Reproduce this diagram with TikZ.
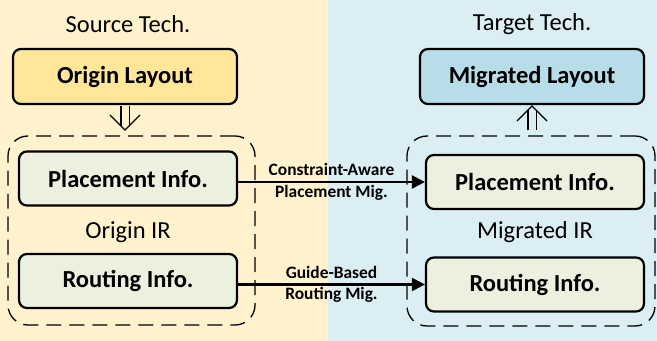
\documentclass[tikz,border=0pt]{standalone}
\usepackage{fontspec}
\setmainfont{Carlito}
\usetikzlibrary{arrows.meta}
\definecolor{srcbg}{HTML}{FFF2CC}
\definecolor{tgtbg}{HTML}{DAEEF3}
\definecolor{srcfill}{HTML}{FFE699}
\definecolor{tgtfill}{HTML}{B7DEE8}
\definecolor{infofill}{HTML}{EBF1DE}
\begin{document}
\begin{tikzpicture}[x=0.5pt,y=-0.5pt,
    infobox/.style={draw,line width=1.1pt,rounded corners=4pt,fill=infofill,minimum width=109pt,minimum height=27pt,font=\fontsize{12.25}{14}\selectfont\bfseries},
    layoutbox/.style={infobox,minimum width=112pt,minimum height=27.5pt},
    irbox/.style={draw,line width=0.65pt,dash pattern=on 7.5pt off 4pt,rounded corners=10pt},
    migarrow/.style={line width=1.1pt,-{Triangle[length=6.5pt,width=6.5pt]}},
    flowshaft/.style={double distance=3.5pt,line width=0.65pt},
    flowhead/.style={line width=0.65pt},
    techlabel/.style={font=\fontsize{12.25}{14}\selectfont},
    miglabel/.style={font=\fontsize{8.7}{10}\selectfont\bfseries,inner sep=1pt}]
    \useasboundingbox (0,0) rectangle (657,341);
    \fill[srcbg] (0,0) rectangle (328,341);
    \fill[tgtbg] (328,0) rectangle (657,341);
    \node[techlabel] (src) at (128,24) {Source Tech.};
    \node[techlabel] (tgt) at (532,24) {Target Tech.};
    \node[layoutbox,fill=srcfill] (ol) at (125,76.5) {Origin Layout};
    \node[layoutbox,fill=tgtfill] (ml) at (532,76.5) {Migrated Layout};
    \node[irbox,minimum width=123.5pt,minimum height=94.5pt] (lir) at (131.5,230.5) {};
    \node[irbox,minimum width=124pt,minimum height=95pt] (rir) at (531,231) {};
    \node[infobox] (lp) at (128,178.5) {Placement Info.};
    \node[infobox] (lr) at (128,281) {Routing Info.};
    \node[infobox] (rp) at (535,182) {Placement Info.};
    \node[infobox] (rr) at (535,284.5) {Routing Info.};
    \node[techlabel] (lirlabel) at (128,232) {Origin IR};
    \node[techlabel] (rirlabel) at (535,232) {Migrated IR};
    \coordinate (dtip) at (ol.south |- 0,130);
    \coordinate (utip) at (ml.south |- 0,106);
    \coordinate (ubase) at (utip |- rir.north);
    \draw[flowshaft,double=srcbg] ([shift={(0,1)}]ol.south) -- ([shift={(0,-4)}]dtip);
    \draw[flowhead] ([shift={(-15,-15)}]dtip) -- (dtip) -- ([shift={(15,-15)}]dtip);
    \draw[flowshaft,double=tgtbg] ([shift={(0,-5)}]ubase) -- ([shift={(0,4)}]utip);
    \draw[flowhead] ([shift={(-15,15)}]utip) -- (utip) -- ([shift={(15,15)}]utip);
    \draw[migarrow] (lp.east |- rp.west) -- (rp.west)
        node[miglabel,midway,above=1.5pt] {Constraint-Aware}
        node[miglabel,midway,below=0pt] {Placement Mig.};
    \draw[migarrow] (lr.east |- rr.west) -- (rr.west)
        node[miglabel,midway,above=1.5pt] {Guide-Based}
        node[miglabel,midway,below=0pt] {Routing Mig.};
\end{tikzpicture}
\end{document}
